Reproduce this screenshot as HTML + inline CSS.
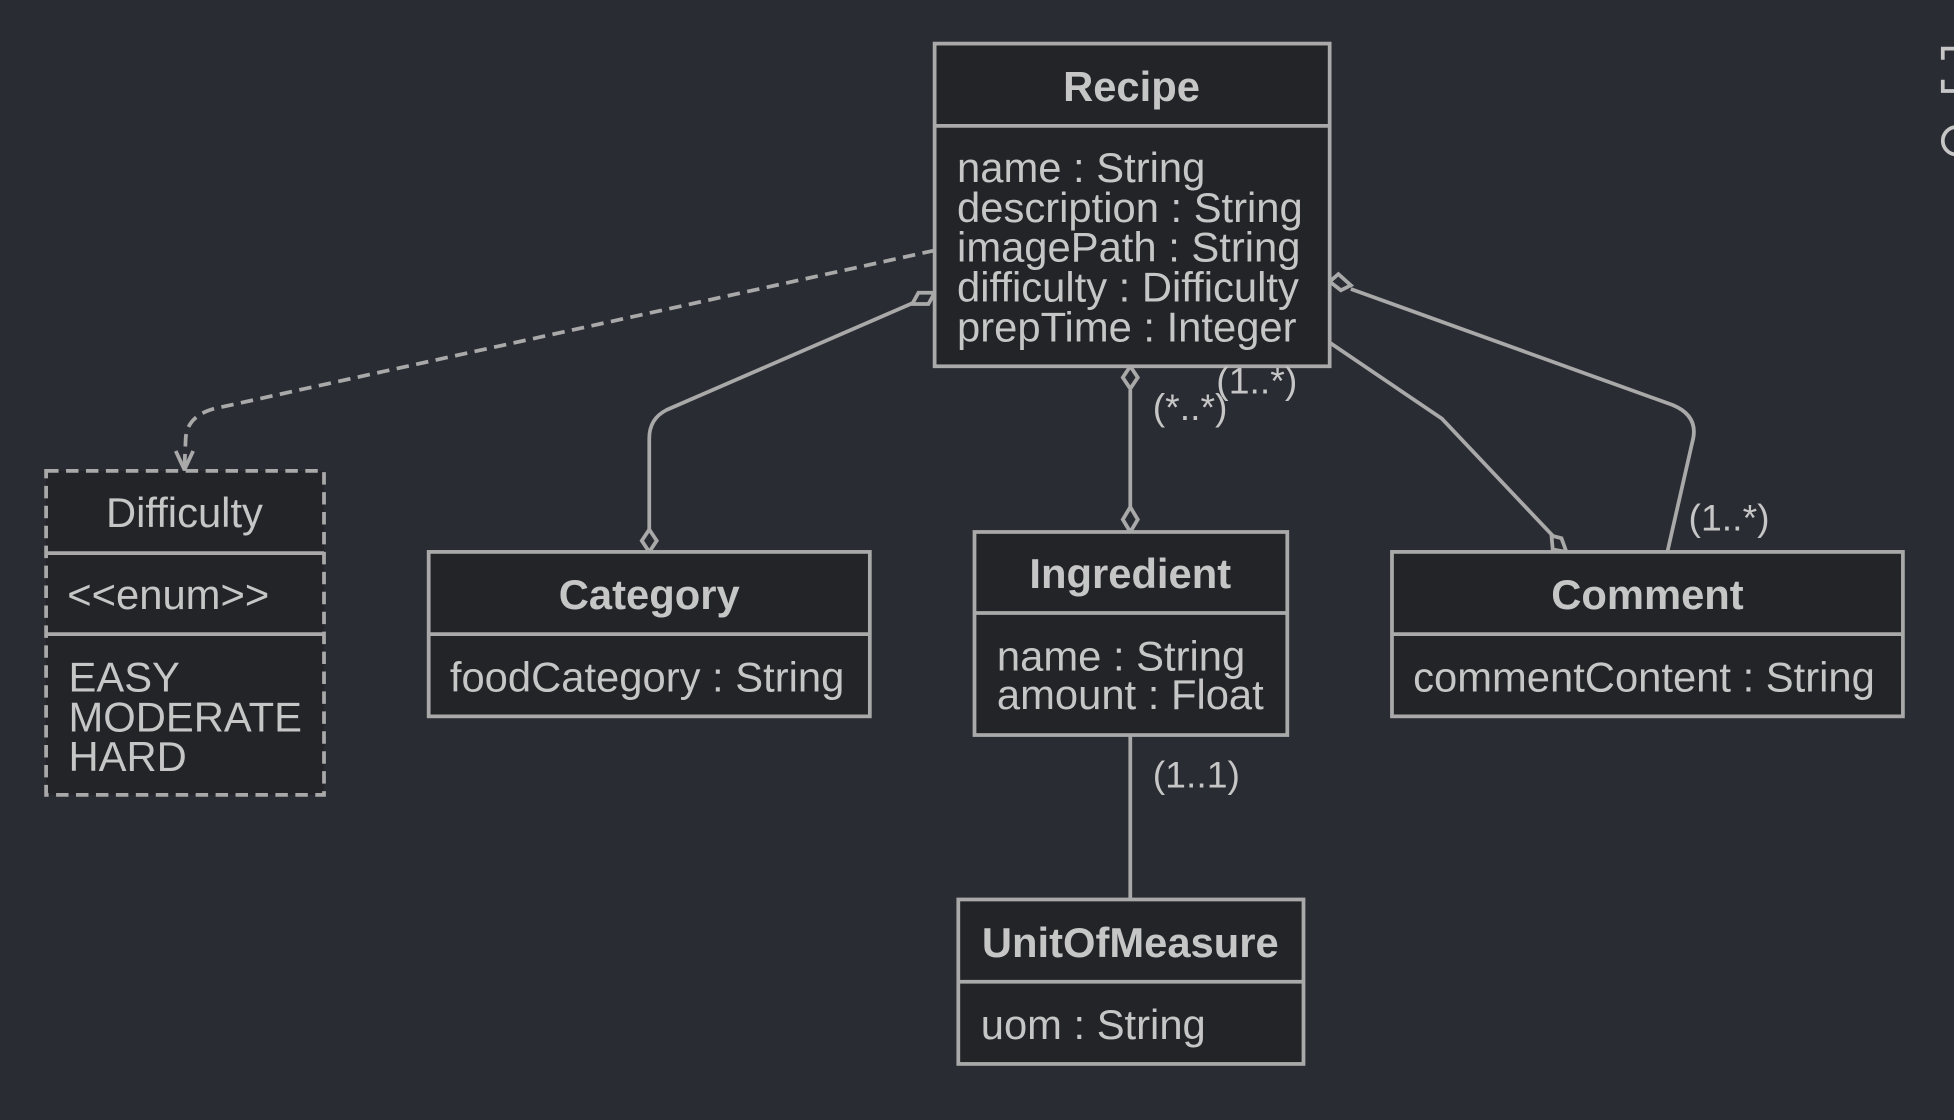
<!DOCTYPE html>
<html><head><meta charset="utf-8"><style>
html,body{margin:0;padding:0;background:#2a2c33;}
svg{display:block;}
text{font-family:"Liberation Sans",Arial,sans-serif;fill:#c6c6c6;}
.b{font-weight:bold;}
</style></head><body>
<svg width="1954" height="1120" viewBox="0 0 1568 899" preserveAspectRatio="none" xmlns="http://www.w3.org/2000/svg">
<rect width="1568" height="899" fill="#2a2c33"/>
<g fill="none" stroke="#a9a9a9" stroke-width="3">
<path d="M750,201 L172,328 Q150,334 149,352 L148,376" stroke-dasharray="10,6"/>
<path d="M141,362 L148,377 L155,362"/>
<path d="M733,243 L535,329 Q521,336 521,352 L521,426"/>
<path d="M907,313 L907,407"/>
<path d="M907,590 L907,722"/>
<path d="M1067,275 L1157,336 L1246,430"/>
<path d="M1084,232 L1342,325 Q1364,334 1358,355 L1338,443"/>
</g>
<g fill="#2a2c33" stroke="#a9a9a9" stroke-width="3">
<polygon points="750,235 745,244 732,244 737,235"/>
<polygon points="521,443 515,434 521,425 527,434"/>
<polygon points="907,294 913,303 907,312 901,303"/>
<polygon points="907,427 913,417 907,407 901,417"/>
<polygon points="1257,443 1246,441 1245,430 1253,432"/>
<polygon points="1067,226 1074,220 1084,229 1076,233"/>
</g>
<g fill="#222428" stroke="#a9a9a9" stroke-width="3">
<rect x="750" y="35" width="317" height="259"/>
<line x1="750" y1="101" x2="1067" y2="101"/>
<rect x="37" y="378" width="223" height="260" stroke-dasharray="10,6"/>
<line x1="37" y1="444" x2="260" y2="444"/>
<line x1="37" y1="509" x2="260" y2="509"/>
<rect x="344" y="443" width="354" height="132"/>
<line x1="344" y1="509" x2="698" y2="509"/>
<rect x="782" y="427" width="251" height="163"/>
<line x1="782" y1="492" x2="1033" y2="492"/>
<rect x="1117" y="443" width="410" height="132"/>
<line x1="1117" y1="509" x2="1527" y2="509"/>
<rect x="769" y="722" width="277" height="132"/>
<line x1="769" y1="788" x2="1046" y2="788"/>
</g>
<g font-size="33.5">
<text x="908" y="81" text-anchor="middle" class="b">Recipe</text>
<text x="768" y="146">name : String</text>
<text x="768" y="178">description : String</text>
<text x="768" y="210">imagePath : String</text>
<text x="768" y="242">difficulty : Difficulty</text>
<text x="768" y="274">prepTime : Integer</text>
<text x="148" y="423" text-anchor="middle">Difficulty</text>
<text x="54" y="489">&lt;&lt;enum&gt;&gt;</text>
<text x="55" y="555">EASY</text>
<text x="55" y="587">MODERATE</text>
<text x="55" y="619">HARD</text>
<text x="521" y="489" text-anchor="middle" class="b">Category</text>
<text x="361" y="555">foodCategory : String</text>
<text x="907" y="472" text-anchor="middle" class="b">Ingredient</text>
<text x="800" y="538">name : String</text>
<text x="800" y="569">amount : Float</text>
<text x="1322" y="489" text-anchor="middle" class="b">Comment</text>
<text x="1134" y="555">commentContent : String</text>
<text x="907" y="768" text-anchor="middle" class="b">UnitOfMeasure</text>
<text x="787" y="834">uom : String</text>
</g>
<g font-size="30">
<text x="976" y="316">(1..*)</text>
<text x="925" y="337">(*..*)</text>
<text x="1355" y="426">(1..*)</text>
<text x="925" y="632">(1..1)</text>
</g>
<g fill="none" stroke="#c6c6c6" stroke-width="3">
<path d="M1568,39 L1559,39 L1559,48"/>
<path d="M1559,64 L1559,73 L1568,73"/>
<circle cx="1570" cy="113" r="11"/>
</g>
</svg>
</body></html>
